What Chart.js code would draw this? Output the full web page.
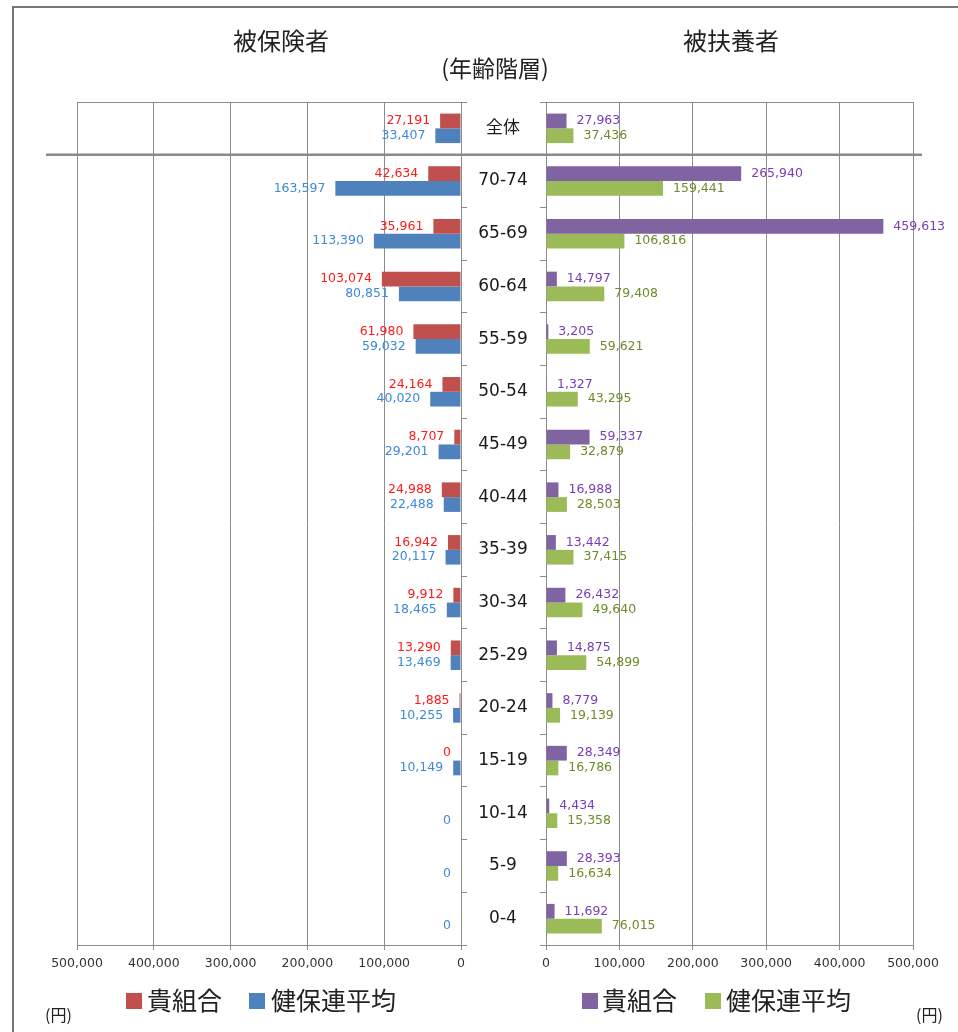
<!DOCTYPE html>
<html><head><meta charset="utf-8">
<script src="https://cdn.jsdelivr.net/npm/chart.js@4.4.1/dist/chart.umd.min.js"></script>
<style>
html,body{margin:0;padding:0;background:#fff;}
#wrap{position:relative;width:958px;height:1032px;overflow:hidden;font-family:"Noto Sans CJK JP",sans-serif;color:#222;}
canvas{position:absolute;left:0;top:0;}
.t{position:absolute;white-space:nowrap;}
.frame{position:absolute;left:12px;top:6px;width:1000px;height:1100px;border-left:2px solid #777;border-top:2px solid #777;}
.sq{position:absolute;width:16px;height:16px;}
</style>
</head><body>
<div id="wrap">
  <div class="frame"></div>
  <canvas id="cLeft" width="958" height="1032"></canvas>
  <canvas id="cRight" width="958" height="1032"></canvas>
  <div class="t" style="left:201px;width:160px;text-align:center;top:25px;font-size:24px;line-height:30px;">被保険者</div>
  <div class="t" style="left:651px;width:160px;text-align:center;top:25px;font-size:24px;line-height:30px;">被扶養者</div>
  <div class="t" style="left:415px;width:160px;text-align:center;top:52px;font-size:23px;line-height:30px;">(年齢階層)</div>

  <div class="sq" style="left:126px;top:993px;background:#C0504D;"></div>
  <div class="t" id="lg1" style="left:147px;top:984px;font-size:25px;line-height:30px;"></div>
  <div class="sq" style="left:249px;top:993px;background:#4F81BD;"></div>
  <div class="t" id="lg2" style="left:271px;top:984px;font-size:25px;line-height:30px;"></div>
  <div class="sq" style="left:582px;top:993px;background:#8064A2;"></div>
  <div class="t" id="lg3" style="left:602px;top:984px;font-size:25px;line-height:30px;"></div>
  <div class="sq" style="left:705px;top:993px;background:#9BBB59;"></div>
  <div class="t" id="lg4" style="left:726px;top:984px;font-size:25px;line-height:30px;"></div>

  <div class="t" style="left:45px;top:1004px;font-size:16px;line-height:20px;">(円)</div>
  <div class="t" style="left:916px;top:1004px;font-size:16px;line-height:20px;">(円)</div>
</div>
<script>
const categories = ['全体','70-74','65-69','60-64','55-59','50-54','45-49','40-44','35-39','30-34','25-29','20-24','15-19','10-14','5-9','0-4'];
const seriesNames = ['貴組合','健保連平均'];
const insuredOwn   = [27191,42634,35961,103074,61980,24164,8707,24988,16942,9912,13290,1885,0,null,null,null];
const insuredAvg   = [33407,163597,113390,80851,59032,40020,29201,22488,20117,18465,13469,10255,10149,0,0,0];
const dependentOwn = [27963,265940,459613,14797,3205,1327,59337,16988,13442,26432,14875,8779,28349,4434,28393,11692];
const dependentAvg = [37436,159441,106816,79408,59621,43295,32879,28503,37415,49640,54899,19139,16786,15358,16634,76015];
const axisMin = 0, axisMax = 500000, axisStep = 100000;

document.getElementById('lg1').textContent = seriesNames[0];
document.getElementById('lg2').textContent = seriesNames[1];
document.getElementById('lg3').textContent = seriesNames[0];
document.getElementById('lg4').textContent = seriesNames[1];

const GRID = '#8c8c8c';
Chart.defaults.font.family = '"DejaVu Sans", "Noto Sans CJK JP", sans-serif';

const valuePlugin = {
  id: 'valueLabels',
  afterDraw(chart) {
    const ctx = chart.ctx;
    const isLeft = chart.options.scales.x.reverse;
    ctx.save();
    ctx.font = '12.5px "DejaVu Sans"';
    ctx.textBaseline = 'middle';
    chart.data.datasets.forEach((ds, di) => {
      const meta = chart.getDatasetMeta(di);
      meta.data.forEach((bar, i) => {
        const v = ds.data[i];
        if (v === null || v === undefined) return;
        const txt = v.toLocaleString('en-US');
        ctx.fillStyle = ds.valueColor;
        if (isLeft) { ctx.textAlign = 'right'; ctx.fillText(txt, bar.x - 10, bar.y); }
        else { ctx.textAlign = 'left'; ctx.fillText(txt, bar.x + 10, bar.y); }
      });
    });
    // plot top border
    const a = chart.chartArea;
    ctx.strokeStyle = GRID; ctx.lineWidth = 1;
    ctx.beginPath(); ctx.moveTo(a.left, a.top + 0.5); ctx.lineTo(a.right, a.top + 0.5); ctx.stroke();
    if (!isLeft) {
      const ys = chart.scales.y;
      // category labels in the middle column
      ctx.fillStyle = '#1a1a1a';
      ctx.textAlign = 'center';
      ctx.font = '17px "DejaVu Sans", "Noto Sans CJK JP"';
      categories.forEach((c, i) => ctx.fillText(c, 503, ys.getPixelForValue(i)));
      // separator line between 全体 and age groups
      const yy = (ys.getPixelForValue(0) + ys.getPixelForValue(1)) / 2;
      ctx.strokeStyle = '#8a8a8a'; ctx.lineWidth = 2.5;
      ctx.beginPath(); ctx.moveTo(46, yy); ctx.lineTo(922, yy); ctx.stroke();
    }
    ctx.restore();
  }
};

function makeChart(id, isLeft) {
  const dA = isLeft ? insuredOwn : dependentOwn;
  const dB = isLeft ? insuredAvg : dependentAvg;
  return new Chart(document.getElementById(id), {
    type: 'bar',
    data: {
      labels: categories,
      datasets: [
        { label: seriesNames[0], data: dA, backgroundColor: isLeft ? '#C0504D' : '#8064A2', valueColor: isLeft ? '#ff1a1a' : '#7a3db8' },
        { label: seriesNames[1], data: dB, backgroundColor: isLeft ? '#4F81BD' : '#9BBB59', valueColor: isLeft ? '#3c8ad8' : '#6e8b2a' }
      ]
    },
    options: {
      indexAxis: 'y',
      responsive: false,
      animation: false,
      layout: { padding: isLeft ? { left: 77, right: 491, top: 102, bottom: 57 } : { left: 540, right: 45, top: 102, bottom: 57 } },
      datasets: { bar: { categoryPercentage: 0.56, barPercentage: 1.0 } },
      scales: {
        x: {
          type: 'linear', reverse: isLeft, min: axisMin, max: axisMax,
          ticks: { stepSize: axisStep, callback: v => Number(v).toLocaleString('en-US'), font: { size: 12.5 }, color: '#333', padding: 6, maxRotation: 0, autoSkip: false },
          grid: { color: GRID, lineWidth: 1, tickLength: 5 },
          border: { color: GRID },
          afterFit: s => { s.height = 30; }
        },
        y: {
          position: isLeft ? 'right' : 'left',
          ticks: { display: false },
          grid: { drawOnChartArea: false, tickLength: 6, color: GRID },
          border: { color: GRID },
          afterFit: s => { s.width = 6; }
        }
      },
      plugins: { legend: { display: false }, tooltip: { enabled: false } }
    },
    plugins: [valuePlugin]
  });
}
makeChart('cLeft', true);
makeChart('cRight', false);
</script>
</body></html>
